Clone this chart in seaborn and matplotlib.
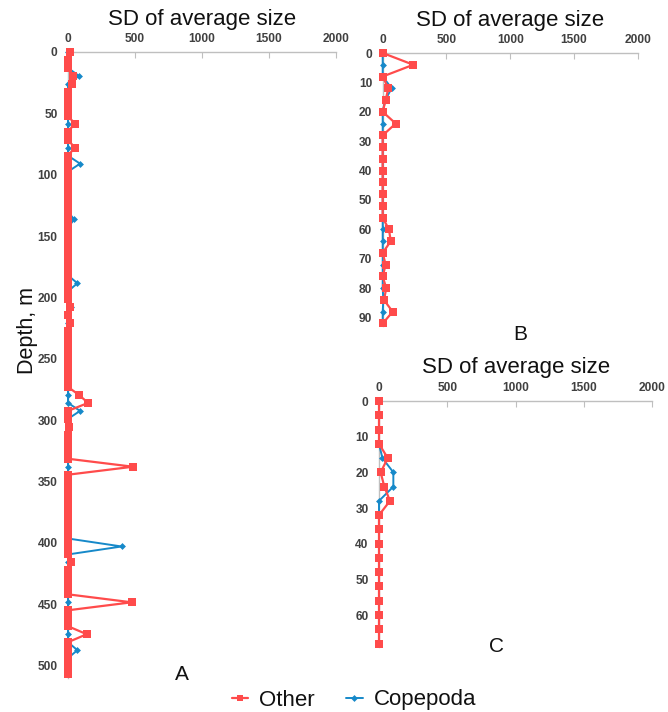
import numpy as np
import pandas as pd
import matplotlib
matplotlib.use('Agg')
import matplotlib.pyplot as plt
import seaborn as sns
from matplotlib.lines import Line2D

sns.set_style('white')
plt.rcParams['font.family'] = ['Liberation Sans', 'DejaVu Sans']

RED = '#FF4B4B'
BLUE = '#1689C9'
GREY = '#BFBFBF'
TXT = '#404040'

# Panel A: depth (m) and SD of average size
depth_a = [0, 6.5, 13, 19.5, 26, 32.5, 39, 45.5, 52, 58.5,
           65, 71.5, 78, 84.5, 91, 97.5, 104, 110.5, 117, 123.5,
           130, 136.5, 143, 149.5, 156, 162.5, 169, 175.5, 182, 188.5,
           195, 201.5, 208, 214.5, 221, 227.5, 234, 240.5, 247, 253.5,
           260, 266.5, 273, 279.5, 286, 292.5, 299, 305.5, 312, 318.5,
           325, 331.5, 338, 344.5, 351, 357.5, 364, 370.5, 377, 383.5,
           390, 396.5, 403, 409.5, 416, 422.5, 429, 435.5, 442, 448.5,
           455, 461.5, 468, 474.5, 481, 487.5, 494, 500.5, 507]
other_a = [18, 0, 0, 40, 30, 0, 0, 0, 0, 50,
           0, 0, 50, 0, 0, 0, 0, 0, 0, 0,
           0, 0, 0, 0, 0, 0, 0, 0, 0, 0,
           0, 0, 15, 0, 15, 0, 0, 0, 0, 0,
           0, 0, 0, 82, 150, 0, 0, 10, 0, 0,
           0, 0, 485, 0, 0, 0, 0, 0, 0, 0,
           0, 0, 0, 0, 20, 0, 0, 0, 0, 475,
           0, 0, 0, 140, 0, 0, 0, 0, 0]
cope_a = [0, 0, 0, 82, 0, 0, 0, 0, 0, 0,
          0, 0, 0, 0, 90, 0, 0, 0, 0, 0,
          0, 45, 0, 0, 0, 0, 0, 0, 0, 70,
          0, 0, 25, 0, 0, 0, 0, 0, 0, 0,
          0, 0, 0, 0, 0, 90, 0, 10, 0, 0,
          0, 0, 0, 0, 0, 0, 0, 0, 0, 0,
          0, 0, 400, 0, 0, 0, 0, 0, 0, 0,
          0, 0, 0, 0, 0, 70, 0, 0, 0]

# Panel B
depth_b = [0, 4, 8, 12, 16, 20, 24, 28, 32, 36, 40, 44,
           48, 52, 56, 60, 64, 68, 72, 76, 80, 84, 88, 92]
other_b = [0, 240, 0, 44, 23, 0, 102, 0, 0, 0, 0, 0,
           0, 0, 0, 49, 63, 0, 23, 0, 28, 10, 78, 0]
cope_b = [0, 0, 0, 70, 20, 0, 0, 0, 0, 0, 0, 0,
          0, 0, 0, 0, 0, 0, 0, 0, 0, 5, 0, 0]

# Panel C
depth_c = [0, 4, 8, 12, 16, 20, 24, 28, 32, 36, 40, 44, 48, 52, 56, 60, 64, 68]
other_c = [0, 0, 0, 0, 64, 12, 39, 80, 0, 0, 0, 0, 0, 0, 0, 0, 0, 0]
cope_c = [0, 0, 0, 0, 25, 105, 105, 0, 0, 0, 0, 0, 0, 0, 0, 0, 0, 0]

fig = plt.figure(figsize=(6.68, 7.12), dpi=100)
W, H = 668, 712


def add_axes(x0, x1, ytop, ybot):
    return fig.add_axes([x0 / W, 1 - ybot / H, (x1 - x0) / W, (ybot - ytop) / H])


def draw_panel(ax, depth, other, cope, ymax, yticks, title_pad):
    df = pd.DataFrame({'depth': depth, 'Other': other, 'Copepoda': cope})
    sns.lineplot(data=df, x='Copepoda', y='depth', orient='y', estimator=None,
                 color=BLUE, marker='D', markersize=3.5, markeredgewidth=0,
                 linewidth=1.4, clip_on=False, zorder=3, ax=ax)
    sns.lineplot(data=df, x='Other', y='depth', orient='y', estimator=None,
                 color=RED, marker='s', markersize=5.25, markeredgewidth=0,
                 linewidth=1.6, clip_on=False, zorder=4, ax=ax)
    ax.set_xlim(0, 2000)
    ax.set_ylim(ymax, 0)
    ax.set_xticks([0, 500, 1000, 1500, 2000])
    ax.set_yticks(yticks)
    ax.xaxis.tick_top()
    ax.set_xlabel('')
    ax.set_ylabel('')
    for s in ['right', 'bottom']:
        ax.spines[s].set_visible(False)
    for s in ['top', 'left']:
        ax.spines[s].set_color(GREY)
        ax.spines[s].set_linewidth(1.0)
    ax.tick_params(axis='x', direction='in', length=4, color=GREY, labelsize=8.6,
                   labelcolor=TXT, pad=5)
    ax.tick_params(axis='y', direction='inout', length=5, color=GREY, labelsize=8.6,
                   labelcolor=TXT, pad=5)
    for lab in ax.get_xticklabels() + ax.get_yticklabels():
        lab.set_fontweight('bold')
    ax.patch.set_visible(False)
    ax.grid(False)
    ax.set_title('SD of average size', fontsize=16, color='#111111', pad=title_pad)


ax_a = add_axes(68, 336, 52, 52 + 510 * 1.227)
draw_panel(ax_a, depth_a, other_a, cope_a, 510, list(range(0, 501, 50)), 19.5)

ax_b = add_axes(382.7, 637.7, 53, 53 + 93 * 2.94)
draw_panel(ax_b, depth_b, other_b, cope_b, 93, list(range(0, 91, 10)), 19.5)

ax_c = add_axes(379, 652.3, 401, 401 + 69 * 3.567)
draw_panel(ax_c, depth_c, other_c, cope_c, 69, list(range(0, 61, 10)), 20.5)

fig.text(27 / W, 1 - 330 / H, 'Depth, m', rotation=90, fontsize=15.5,
         ha='center', va='center', color='#111111')
fig.text(182 / W, 1 - 675 / H, 'A', fontsize=15, ha='center', va='center', color='#111111')
fig.text(520 / W, 1 - 335 / H, 'B', fontsize=15, ha='center', va='center', color='#111111')
fig.text(496 / W, 1 - 646 / H, 'C', fontsize=15, ha='center', va='center', color='#111111')

handles = [Line2D([], [], color=RED, marker='s', markersize=5, lw=1.6, markeredgewidth=0),
           Line2D([], [], color=BLUE, marker='D', markersize=3.5, lw=1.4, markeredgewidth=0)]
fig.legend(handles, ['Other', 'Copepoda'], loc='center', bbox_to_anchor=(0.53, 1 - 700 / H),
           ncol=2, frameon=False, fontsize=16, handlelength=0.75, handletextpad=0.5,
           columnspacing=1.4, labelcolor='#111111')

plt.savefig('out.png', dpi=100)
